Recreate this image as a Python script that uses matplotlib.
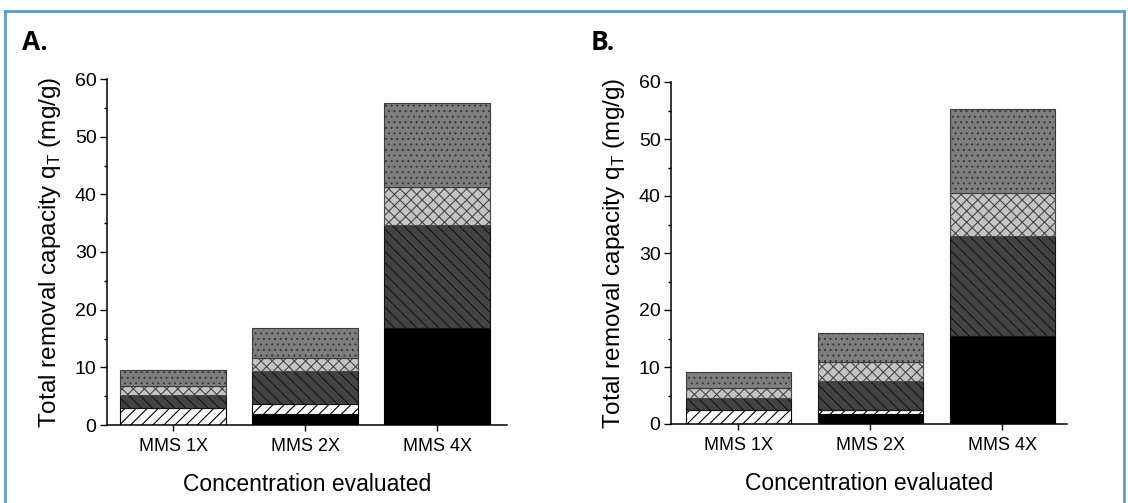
import matplotlib
matplotlib.use("Agg")
import matplotlib.pyplot as plt
from matplotlib.lines import Line2D
from matplotlib.ticker import MultipleLocator
import numpy as np

plt.rcParams["font.family"] = ["Liberation Sans", "DejaVu Sans"]
plt.rcParams["mathtext.fontset"] = "custom"
plt.rcParams["mathtext.rm"] = "Liberation Sans"
plt.rcParams["hatch.linewidth"] = 0.8

# Concentrations evaluated
categories = ["MMS 1X", "MMS 2X", "MMS 4X"]

# Stacked contributions to total removal capacity (mg/g), panel A
a_black = [0.0, 1.9, 16.9]
a_white = [2.95, 1.75, 0.0]
a_dark = [2.3, 5.65, 17.8]
a_cross = [1.45, 2.3, 6.5]
a_dots = [2.8, 5.3, 14.6]

# Stacked contributions to total removal capacity (mg/g), panel B
b_black = [0.0, 1.75, 15.5]
b_white = [2.4, 0.75, 0.0]
b_dark = [2.15, 5.1, 17.5]
b_cross = [1.75, 3.25, 7.6]
b_dots = [2.8, 5.2, 14.7]

y_ticks = [0, 10, 20, 30, 40, 50, 60]

# fill, hatch and hatch/edge colour for each stacked layer, bottom to top
layer_styles = [
    dict(color="#000000", hatch=None, edgecolor="#000000"),
    dict(color="#ffffff", hatch="///", edgecolor="#000000"),
    dict(color="#424242", hatch="\\\\\\", edgecolor="#141414"),
    dict(color="#c4c4c4", hatch="xxx", edgecolor="#4a4a4a"),
    dict(color="#7e7e7e", hatch="...", edgecolor="#3c3c3c"),
]

W, H = 1128, 503
fig = plt.figure(figsize=(W / 100, H / 100), dpi=100)
fig.patch.set_facecolor("white")


def draw_panel(rect, layers, xlim, letter, letter_xy, ylab_x):
    ax = fig.add_axes(rect)
    x = np.arange(1, len(categories) + 1)
    bottom = np.zeros(len(categories))
    for vals, st in zip(layers, layer_styles):
        vals = np.asarray(vals, dtype=float)
        ax.bar(x, vals, width=0.8, bottom=bottom, color=st["color"],
               hatch=st["hatch"], edgecolor=st["edgecolor"], linewidth=0.8,
               zorder=2)
        bottom = bottom + vals
    ax.set_xlim(*xlim)
    ax.set_ylim(0, 60)
    ax.set_yticks(y_ticks)
    ax.yaxis.set_minor_locator(MultipleLocator(5))
    ax.set_xticks(x)
    ax.set_xticklabels(categories, fontsize=13)
    ax.tick_params(axis="y", which="major", direction="out", length=5,
                   width=1, labelsize=14, pad=2.5)
    ax.tick_params(axis="y", which="minor", direction="out", length=2.5,
                   width=1)
    ax.tick_params(axis="x", which="major", direction="out", length=4.5,
                   width=1, pad=5)
    for side in ("top", "right"):
        ax.spines[side].set_visible(False)
    for side in ("left", "bottom"):
        ax.spines[side].set_linewidth(1.1)
    ax.set_ylabel(r"Total removal capacity q$_\mathregular{T}$ (mg/g)",
                  fontsize=17.5)
    ax.yaxis.set_label_coords(ylab_x, 0.5)
    ax.set_xlabel("Concentration evaluated", fontsize=16.5)
    ax.xaxis.set_label_coords(0.5, -0.14)
    fig.text(letter_xy[0] / W, 1 - letter_xy[1] / H, letter,
             fontsize=19, fontweight="bold", family="Open Sans",
             ha="left", va="baseline")
    return ax


draw_panel([107 / W, (H - 425) / H, 400 / W, 346 / H],
           [a_black, a_white, a_dark, a_cross, a_dots],
           (0.5, 3.53), "A.", (22, 50), -0.11)
draw_panel([671 / W, (H - 424) / H, 396 / W, 342 / H],
           [b_black, b_white, b_dark, b_cross, b_dots],
           (0.49, 3.49), "B.", (591, 50), -0.112)

# blue frame around the figure
blue = "#5b9bd5"
fig.add_artist(Line2D([4.5 / W, 4.5 / W], [0, 1 - 11 / H], color=blue,
                      lw=2, transform=fig.transFigure))
fig.add_artist(Line2D([4.5 / W, 1123.5 / W], [1 - 11 / H, 1 - 11 / H],
                      color=blue, lw=2, transform=fig.transFigure))
fig.add_artist(Line2D([1123.5 / W, 1123.5 / W], [0, 1 - 11 / H], color=blue,
                      lw=2, transform=fig.transFigure))

fig.savefig("out.png", dpi=100, facecolor="white")
